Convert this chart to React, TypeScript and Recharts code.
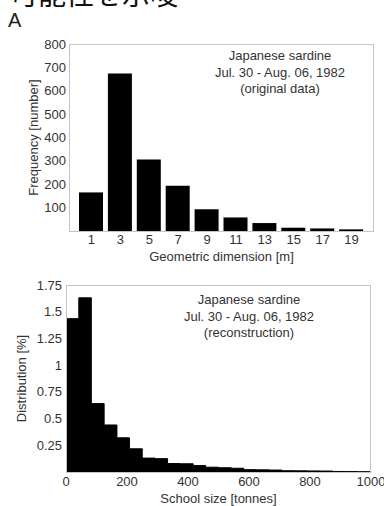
import { BarChart, Bar, AreaChart, Area, XAxis, YAxis } from 'recharts';

// Panel A (top): school geometric dimension, original counts
const dimensions = ['1', '3', '5', '7', '9', '11', '13', '15', '17', '19'];
const frequencies = [165, 674, 306, 194, 93, 58, 34, 14, 11, 7];
const freqTicks = [100, 200, 300, 400, 500, 600, 700, 800];

// Panel B (bottom): reconstructed school size distribution (bin left edges)
const binEdges = [0, 42, 83, 125, 167, 208, 250, 292, 333, 375, 417, 458, 500, 542, 583, 625, 667, 708, 750, 792, 833, 875, 917, 958, 1000];
const distribution = [1.435, 1.63, 0.64, 0.44, 0.32, 0.217, 0.13, 0.125, 0.079, 0.077, 0.06, 0.045, 0.04, 0.035, 0.022, 0.02, 0.018, 0.012, 0.011, 0.01, 0.009, 0.005, 0.004, 0.003, 0];
const sizeTicks = [0, 200, 400, 600, 800, 1000];
const distTicks = [0.25, 0.5, 0.75, 1, 1.25, 1.5, 1.75];

const freqData = dimensions.map((d, i) => ({ dim: d, freq: frequencies[i] }));
const distData = binEdges.map((e, i) => ({ edge: e, pct: distribution[i] }));

const FONT = '"Liberation Sans", Arial, sans-serif';
const tickStyle = { fontSize: 13, fill: '#333', fontFamily: FONT };
const labelStyle = { fontSize: 13, fill: '#333', fontFamily: FONT };

const Note = ({ left, top, lines }: { left: number; top: number; lines: string[] }) => (
  <div
    style={{
      position: 'absolute',
      left: left - 90,
      top,
      width: 180,
      textAlign: 'center',
      fontFamily: FONT,
      fontSize: 13,
      lineHeight: '16.5px',
      color: '#333',
    }}
  >
    {lines.map((l) => (
      <div key={l}>{l}</div>
    ))}
  </div>
);

const Frame = ({ left, top, width, height }: { left: number; top: number; width: number; height: number }) => (
  <div
    style={{
      position: 'absolute',
      left,
      top,
      width,
      height,
      boxSizing: 'border-box',
      border: '1px solid #c4c4c4',
      pointerEvents: 'none',
    }}
  />
);

export default function App() {
  return (
    <div style={{ position: 'absolute', left: 0, top: 0, width: 384, height: 506, overflow: 'hidden', background: '#fff' }}>
      <div
        style={{
          position: 'absolute',
          left: 10,
          top: -21,
          fontSize: 28,
          lineHeight: '28px',
          fontFamily: '"Noto Sans CJK JP", sans-serif',
          color: '#111',
          whiteSpace: 'nowrap',
        }}
      >
        可能性を示唆
      </div>
      <div style={{ position: 'absolute', left: 8, top: 11, fontSize: 20, lineHeight: '18px', fontFamily: FONT, color: '#222' }}>A</div>

      <div style={{ position: 'absolute', left: 0, top: 0 }}>
        <BarChart width={384} height={272} data={freqData} margin={{ top: 44, right: 10, bottom: 0, left: 0 }}>
          <XAxis
            dataKey="dim"
            interval={0}
            padding={{ left: 8, right: 8 }}
            tickLine={false}
            axisLine={false}
            tickSize={0}
            tickMargin={4}
            tick={tickStyle}
            height={41}
            label={{ value: 'Geometric dimension [m]', position: 'insideBottom', offset: 11, ...labelStyle }}
          />
          <YAxis
            width={69}
            domain={[0, 800]}
            ticks={freqTicks}
            tickLine={false}
            axisLine={false}
            tickSize={0}
            tickMargin={3}
            tick={tickStyle}
            label={{
              value: 'Frequency [number]',
              angle: -90,
              position: 'insideLeft',
              offset: 33,
              ...labelStyle,
              style: { textAnchor: 'middle' },
            }}
          />
          <Bar dataKey="freq" fill="#000" barSize={24} isAnimationActive={false} />
        </BarChart>
      </div>
      <Frame left={69} top={44} width={305} height={188} />
      <Note left={280} top={48} lines={['Japanese sardine', 'Jul. 30 - Aug. 06, 1982', '(original data)']} />

      <div style={{ position: 'absolute', left: 0, top: 270 }}>
        <AreaChart width={384} height={236} data={distData} margin={{ top: 15, right: 13, bottom: 0, left: 0 }}>
          <XAxis
            dataKey="edge"
            type="number"
            domain={[0, 1000]}
            ticks={sizeTicks}
            tickLine={false}
            axisLine={false}
            tickSize={0}
            tickMargin={5}
            tick={tickStyle}
            height={34}
            label={{ value: 'School size [tonnes]', position: 'insideBottom', offset: 3, ...labelStyle }}
          />
          <YAxis
            width={66}
            domain={[0, 1.75]}
            ticks={distTicks}
            tickLine={false}
            axisLine={false}
            tickSize={0}
            tickMargin={4}
            tick={tickStyle}
            label={{
              value: 'Distribution [%]',
              angle: -90,
              position: 'insideLeft',
              offset: 21,
              ...labelStyle,
              style: { textAnchor: 'middle' },
            }}
          />
          <Area
            dataKey="pct"
            type="stepAfter"
            stroke="#000"
            strokeWidth={1}
            fill="#000"
            fillOpacity={1}
            isAnimationActive={false}
          />
        </AreaChart>
      </div>
      <Frame left={66} top={285} width={305} height={188} />
      <Note left={249} top={292} lines={['Japanese sardine', 'Jul. 30 - Aug. 06, 1982', '(reconstruction)']} />
    </div>
  );
}
